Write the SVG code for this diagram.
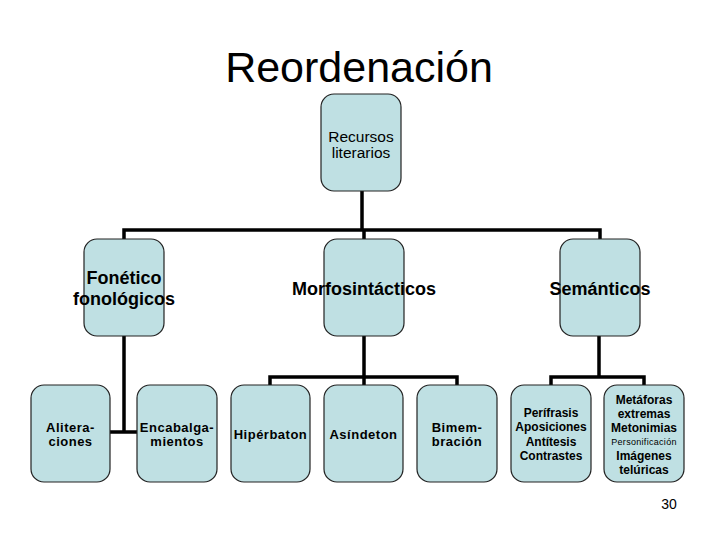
<svg xmlns="http://www.w3.org/2000/svg" width="720" height="540" viewBox="0 0 720 540">
<style>
.box{fill:#bfe0e3;stroke:#222;stroke-width:1.2}
.t{font-family:"Liberation Sans",Arial,sans-serif;fill:#000;text-anchor:middle}
.l2{font-size:18px;font-weight:bold}
.l3{font-size:13px;font-weight:bold;letter-spacing:0.5px}
.l4{font-size:12px;font-weight:bold}
.sm{font-size:9px;letter-spacing:0.3px}
.conn{fill:none;stroke:#000;stroke-width:3.5;stroke-linejoin:miter;stroke-linecap:butt}
</style>
<rect width="720" height="540" fill="#fff"/>
<text class="t" x="359" y="82" font-size="43">Reordenación</text>
<g id="connectors">
<path class="conn" d="M362 191 V230 M124 239 V230 H600 V239 M364 230 V239"/>
<path class="conn" d="M124 336 V432 M110 432 H137"/>
<path class="conn" d="M364 336 V385 M270 385 V377 H457 V385"/>
<path class="conn" d="M599 336 V377 M551 385 V377 H644 V385"/>
</g>
<g id="root"><rect class="box" x="321" y="94" width="80" height="97" rx="13"/>
<text class="t" x="361" y="142" font-size="15.5">Recursos</text>
<text class="t" x="361" y="158" font-size="15.5">literarios</text></g>
<g id="fonetico"><rect class="box" x="84" y="239" width="80" height="97" rx="13"/>
<text class="t l2" x="124" y="284">Fonético</text>
<text class="t l2" x="124" y="305">fonológicos</text></g>
<g id="morfo"><rect class="box" x="324" y="239" width="80" height="97" rx="13"/>
<text class="t l2" x="364" y="295">Morfosintácticos</text></g>
<g id="semanticos"><rect class="box" x="560" y="239" width="80" height="97" rx="13"/>
<text class="t l2" x="600" y="295">Semánticos</text></g>
<g id="aliteraciones"><rect class="box" x="31" y="385" width="79" height="97" rx="13"/>
<text class="t l3" x="70.5" y="432">Alitera-</text>
<text class="t l3" x="70.5" y="446">ciones</text></g>
<g id="encabalgamientos"><rect class="box" x="137" y="385" width="80" height="97" rx="13"/>
<text class="t l3" x="177" y="432">Encabalga-</text>
<text class="t l3" x="177" y="446">mientos</text></g>
<g id="hiperbaton"><rect class="box" x="231" y="385" width="79" height="97" rx="13"/>
<text class="t l3" x="270.5" y="439">Hipérbaton</text></g>
<g id="asindeton"><rect class="box" x="324" y="385" width="79" height="97" rx="13"/>
<text class="t l3" x="363.5" y="439">Asíndeton</text></g>
<g id="bimembracion"><rect class="box" x="417" y="385" width="80" height="97" rx="13"/>
<text class="t l3" x="457" y="432">Bimem-</text>
<text class="t l3" x="457" y="446">bración</text></g>
<g id="semanticos-a"><rect class="box" x="511" y="385" width="80" height="97" rx="13"/>
<text class="t l4" x="551" y="417">Perífrasis</text>
<text class="t l4" x="551" y="431">Aposiciones</text>
<text class="t l4" x="551" y="445.5">Antítesis</text>
<text class="t l4" x="551" y="459.5">Contrastes</text></g>
<g id="semanticos-b"><rect class="box" x="604" y="385" width="80" height="97" rx="13"/>
<text class="t l4" x="644" y="403.5">Metáforas</text>
<text class="t l4" x="644" y="417.5">extremas</text>
<text class="t l4" x="644" y="431.5">Metonimias</text>
<text class="t sm" x="644" y="444.5">Personificación</text>
<text class="t l4" x="644" y="459.5">Imágenes</text>
<text class="t l4" x="644" y="473.5">telúricas</text></g>
<text class="t" x="669" y="509" font-size="14">30</text>
</svg>
